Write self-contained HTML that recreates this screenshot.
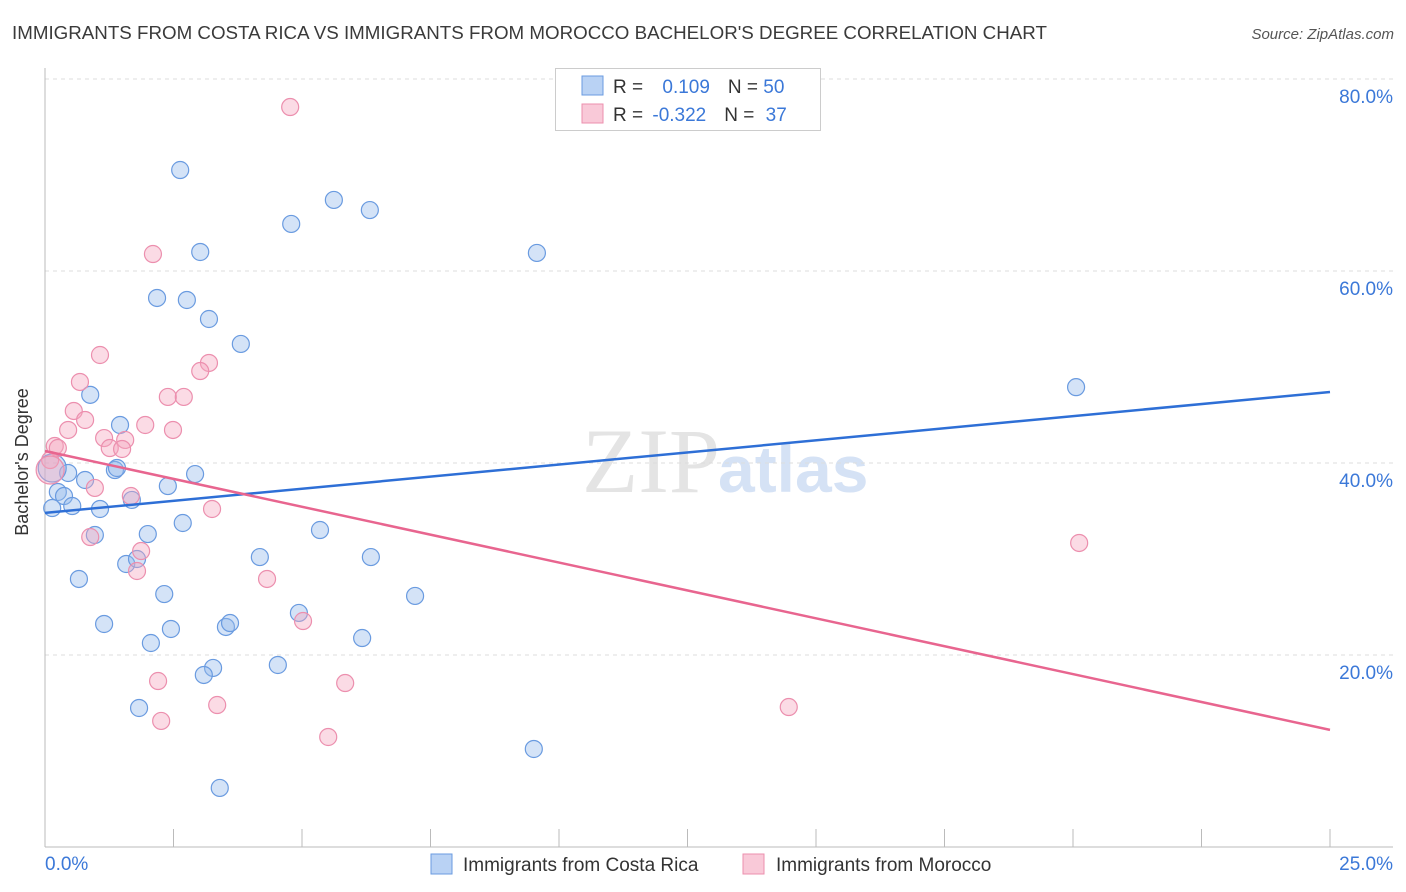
<!DOCTYPE html>
<html><head><meta charset="utf-8"><style>
body{margin:0;background:#fff;font-family:"Liberation Sans",sans-serif;}
svg{display:block}
</style></head><body>
<svg id="chart" width="1406" height="892">
<text x="12" y="39" font-size="18.75" fill="#3a3a3a">IMMIGRANTS FROM COSTA RICA VS IMMIGRANTS FROM MOROCCO BACHELOR'S DEGREE CORRELATION CHART</text>
<text x="1394" y="39" font-size="15" fill="#555" font-style="italic" text-anchor="end">Source: ZipAtlas.com</text>
<text x="720" y="492" font-size="92" fill="#e4e4e4" text-anchor="end" font-family="Liberation Serif,serif">ZIP</text>
<text x="718" y="492" font-size="66" fill="#d5e2f5" font-weight="bold">atlas</text>
<g id="grid"></g><g id="axes"></g><g id="marks"></g>
<g>
<rect x="555.5" y="68.5" width="265" height="62" fill="#fff" stroke="#ccc"/>
<rect x="582" y="76" width="21" height="19" fill="#b9d2f4" stroke="#6a9be0"/>
<rect x="582" y="104" width="21" height="19" fill="#f9c9d8" stroke="#ec8fae"/>
<text x="613" y="93" font-size="19" fill="#333">R = <tspan fill="#3b78d8" dx="14">0.109</tspan><tspan dx="18" fill="#333">N = </tspan><tspan fill="#3b78d8">50</tspan></text>
<text x="613" y="121" font-size="19" fill="#333">R = <tspan fill="#3b78d8" dx="4">-0.322</tspan><tspan dx="18" fill="#333">N = </tspan><tspan fill="#3b78d8" dx="6">37</tspan></text>
</g>
<g>
<rect x="431" y="854" width="21" height="20" fill="#b9d2f4" stroke="#6a9be0"/>
<text x="463" y="871" font-size="19" fill="#333">Immigrants from Costa Rica</text>
<rect x="743" y="854" width="21" height="20" fill="#f9c9d8" stroke="#ec8fae"/>
<text x="776" y="871" font-size="19" fill="#333">Immigrants from Morocco</text>
</g>
<text x="22" y="456" font-size="18" fill="#333" text-anchor="middle" transform="rotate(-90 28 456)">Bachelor's Degree</text>
</svg>
<script>
const blueX=[2.63,3.02,4.79,5.62,6.32,9.57,2.18,2.76,3.19,3.81,20.06,0.88,1.46,1.36,0.45,2.92,2.39,0.78,0.25,0.37,0.14,0.53,1.07,1.69,2.68,0.97,2.0,5.35,4.18,6.34,1.58,1.79,0.66,2.32,7.2,4.94,1.15,2.45,3.52,3.6,2.06,6.17,3.27,3.09,4.53,1.83,9.51,3.4,1.4,0.14];
const blueY=[70.52,61.98,64.9,67.4,66.35,61.88,57.19,56.98,55.0,52.4,47.9,47.1,43.96,39.27,38.96,38.85,37.6,38.23,36.98,36.56,35.31,35.52,35.21,36.15,33.75,32.5,32.6,33.02,30.2,30.2,29.48,30.0,27.92,26.35,26.15,24.38,23.23,22.71,22.92,23.33,21.25,21.77,18.65,17.92,18.96,14.48,10.21,6.15,39.48,39.48];
const pinkX=[4.77,2.1,1.07,3.19,3.02,0.68,2.39,2.7,0.56,0.78,1.95,0.45,2.49,1.15,1.56,1.26,1.5,0.19,0.25,0.1,0.97,1.67,3.25,0.88,1.87,1.79,4.32,5.02,20.12,2.2,5.84,2.26,3.35,5.51,14.47,0.1];
const pinkY=[77.08,61.77,51.25,50.42,49.58,48.44,46.88,46.88,45.42,44.48,43.96,43.44,43.44,42.6,42.4,41.56,41.46,41.77,41.56,40.31,37.4,36.56,35.21,32.29,30.83,28.75,27.92,23.54,31.67,17.29,17.08,13.13,14.79,11.46,14.58,39.27];
const blueTrend=[34.8,47.4];
const pinkTrend=[41.25,12.2];
const yTicks=[20,40,60,80];
const xTicks=[0,2.5,5,7.5,10,12.5,15,17.5,20,22.5,25];
const NS="http://www.w3.org/2000/svg";
const sx=v=>45+v*51.4, sy=v=>847-v*9.6;
function mk(tag,attrs,parent){const e=document.createElementNS(NS,tag);for(const k in attrs)e.setAttribute(k,attrs[k]);document.getElementById(parent).appendChild(e);return e;}
yTicks.forEach(t=>{
 const l=mk('line',{x1:45,x2:1393,y1:sy(t),y2:sy(t),stroke:'#ddd','stroke-dasharray':'4 4'},'grid');
 
 
 const tx=mk('text',{x:1393,y:sy(t)+24,'font-size':19,fill:'#3b78d8','text-anchor':'end'},'grid');
 tx.textContent=t.toFixed(1)+'%';
 
 
});
mk('line',{x1:45,x2:45,y1:68,y2:847,stroke:'#bbb'},'axes');
mk('line',{x1:45,x2:1393,y1:847,y2:847,stroke:'#bbb'},'axes');
xTicks.forEach(t=>{const l=mk('line',{x1:sx(t),x2:sx(t),y1:829,y2:847,stroke:'#bbb'},'axes');
 
 });
[[0,'0.0%','start',45],[25,'25.0%','end',1393]].forEach(a=>{const tx=mk('text',{x:a[3],y:870,'font-size':19,fill:'#3b78d8','text-anchor':a[2]},'axes');tx.textContent=a[1];
 
 });
function pts(X,Y,fill,stroke,name){X.forEach((x,i)=>{const big=i===X.length-1&&x<0.2;const c=mk('circle',{cx:sx(x),cy:sy(Y[i]),r:big?14:8.5,fill:fill,stroke:stroke,'stroke-width':1.2},'marks');
 
 });}
pts(blueX,blueY,'rgba(147,186,236,0.4)','#6a9be0','costa-rica-point');
pts(pinkX,pinkY,'rgba(244,166,190,0.4)','#ec8fae','morocco-point');
const bl=mk('line',{x1:sx(0),y1:sy(blueTrend[0]),x2:sx(25),y2:sy(blueTrend[1]),stroke:'#2e6fd6','stroke-width':2.5},'marks');


const pl=mk('line',{x1:sx(0),y1:sy(pinkTrend[0]),x2:sx(25),y2:sy(pinkTrend[1]),stroke:'#e8658f','stroke-width':2.5},'marks');


</script>
</body></html>
